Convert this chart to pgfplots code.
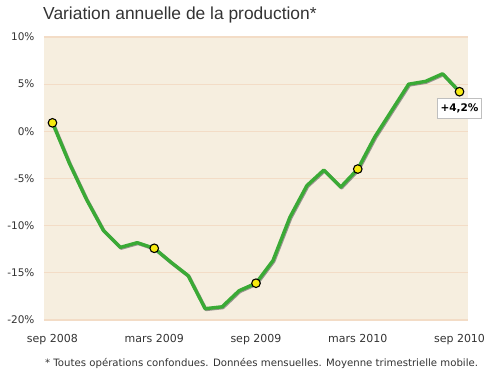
\documentclass[border=0pt]{standalone}
\usepackage{pgfplots}
\pgfplotsset{compat=1.18}
\usepackage{pgfplotstable}
\usepackage{fontspec}
\setmainfont{Liberation Sans}
\newfontfamily\dvs{DejaVu Sans}
\definecolor{bgc}{HTML}{F6EEDF}
\definecolor{gridc}{HTML}{F3DCC6}
\definecolor{linec}{HTML}{3AAA35}
\definecolor{markc}{HTML}{F7EA10}
\definecolor{txt}{HTML}{333333}
\pgfplotstableread{
m v
0 0.9
1 -3.4
2 -7.2
3 -10.5
4 -12.3
5 -11.8
6 -12.4
7 -13.9
8 -15.3
9 -18.8
10 -18.6
11 -16.9
12 -16.1
13 -13.7
14 -9.1
15 -5.75
16 -4.1
17 -5.9
18 -4.0
19 -0.6
20 2.2
21 5.0
22 5.3
23 6.1
24 4.2
}\datatable
\pgfplotstableread{
m v
0 0.9
6 -12.4
12 -16.1
18 -4.0
24 4.2
}\marktable
\begin{document}
\begin{tikzpicture}[x=1pt,y=1pt]
\useasboundingbox (0,0) rectangle (495,380);
\begin{axis}[
  at={(44pt,60pt)}, anchor=south west,
  scale only axis, width=424pt, height=283pt,
  xmin=-0.5, xmax=24.5, ymin=-20, ymax=10,
  axis line style={draw=none},
  axis background/.style={fill=bgc},
  clip=false,
  xtick={0,6,12,18,24},
  xticklabels={sep 2008,mars 2009,sep 2009,mars 2010,sep 2010},
  ytick={-20,-15,-10,-5,0,5,10},
  yticklabels={-20\%,-15\%,-10\%,-5\%,0\%,5\%,10\%},
  tick style={draw=none},
  ymajorgrids, grid style={gridc, line width=1.2pt},
  yticklabel style={font=\dvs\fontsize{10.5}{11}\selectfont, text=txt, anchor=east, xshift=-6pt},
  xticklabel style={font=\dvs\fontsize{11}{12}\selectfont, text=txt, anchor=base, yshift=-22pt},
]
\addplot[gray!70!black, opacity=0.6, line width=3.4pt, line join=round, no markers,
  transform canvas={xshift=0.8pt,yshift=-0.8pt}] table[x=m,y=v]{\datatable};
\addplot[linec, line width=3.4pt, line join=round, no markers] table[x=m,y=v]{\datatable};
\addplot[only marks, mark=*, mark size=4.3pt, mark options={fill=markc, draw=black, line width=1.1pt}] table[x=m,y=v]{\marktable};
\node[draw=gray!50, fill=white, anchor=north, yshift=-6.5pt, inner xsep=3pt, inner ysep=5.5pt,
  font=\dvs\bfseries\fontsize{10.5}{11}\selectfont] at (axis cs:24,4.2) {+4,2\%};
\end{axis}
\node[anchor=base west, text=txt, font=\fontsize{17.4}{19}\selectfont, inner sep=0pt] at (43,360) {Variation annuelle de la production*};
\node[anchor=base west, text=txt, font=\dvs\fontsize{10.15}{11}\selectfont, inner sep=0pt] at (45,13) {* Toutes opérations confondues. Données mensuelles. Moyenne trimestrielle mobile.};
\end{tikzpicture}
\end{document}
